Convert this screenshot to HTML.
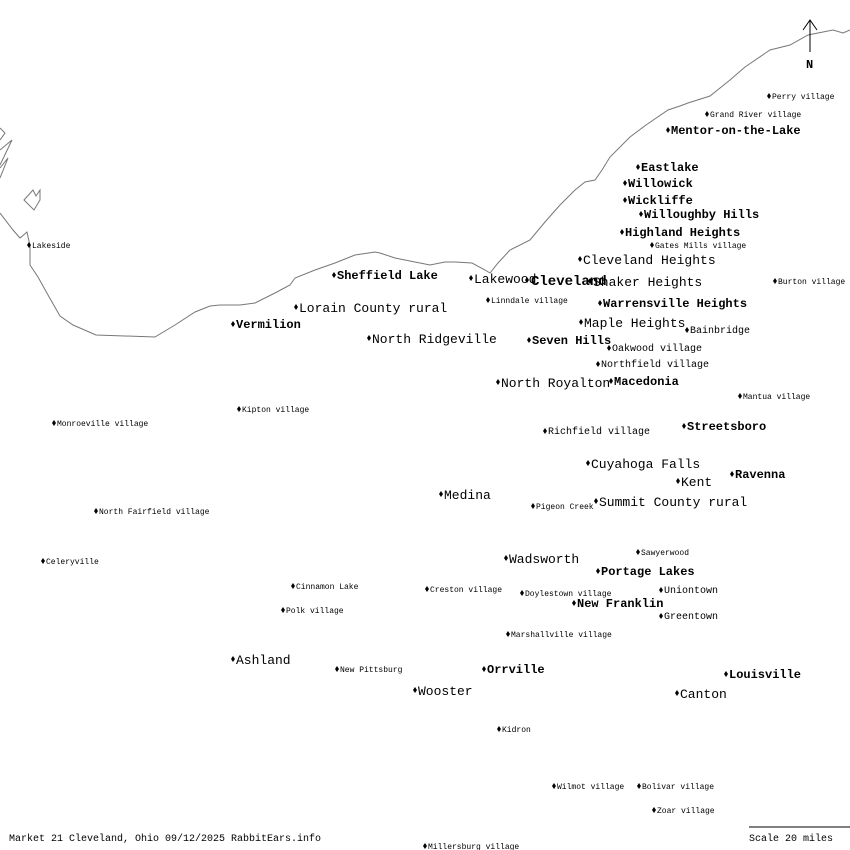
<!DOCTYPE html>
<html><head><meta charset="utf-8"><style>
html,body{margin:0;padding:0;background:#fff;}
svg{display:block;}
text{font-family:"Liberation Mono","DejaVu Sans Mono",monospace;fill:#000;}
.b{font-size:13px;}
.c{font-size:12px;font-weight:bold;}
.m{font-size:10px;}
.s{font-size:8px;}
</style></head><body>
<svg width="850" height="850" viewBox="0 0 850 850" xmlns="http://www.w3.org/2000/svg">
<g fill="none" stroke="#777" stroke-width="1">
<polyline points="0,213 13,230 20,238 27,232 30,246 30,265 38,277 48,295 60,316 73,325 96,335 155,337 175,325 195,312 210,306 220,305 240,305 255,303 275,293 290,285 295,278 315,270 335,263 355,255 375,252 380,253 395,258 415,262 430,265 445,262 455,262 472,263 485,270 490,273 498,263 510,250 530,240 545,222 560,205 575,190 585,182 595,180 602,170 610,157 630,137 646,125 668,110 680,106 688,103 710,96 730,80 745,67 770,50 790,45 808,35 818,33 833,30 843,33 850,30"/>
<polyline points="0,128 5,133 0,140"/>
<polyline points="0,150 12,140 0,165"/>
<polyline points="0,168 8,158 0,178"/>
<polygon points="24,200 33,190 36,196 40,190 40,200 34,210"/>
</g>
<g stroke="#000" fill="none">
<line x1="810" y1="20" x2="810" y2="52"/>
<polyline points="803,30 810,20 817,30"/>
<line x1="749" y1="827" x2="850" y2="827"/>
</g>
<text x="806" y="68" class="c">N</text>
<g id="L"></g>
<text x="9" y="841" class="m">Market 21 Cleveland, Ohio 09/12/2025 RabbitEars.info</text>
<text x="749" y="841" class="m">Scale 20 miles</text>
</svg>
<script>
var d=[
["b","Cleveland Heights",580,259],["b","Shaker Heights",590,281],["b","Lakewood",471,278],["b","Lorain County rural",296,307],["b","North Ridgeville",369,338],["b","Maple Heights",581,322],["b","North Royalton",498,382],["b","Cuyahoga Falls",588,463],["b","Kent",678,481],["b","Summit County rural",596,501],["b","Medina",441,494],["b","Wadsworth",506,558],["b","Ashland",233,659],["b","Wooster",415,690],["b","Canton",677,693],
["c","Mentor-on-the-Lake",668,130],["c","Eastlake",638,167],["c","Willowick",625,183],["c","Wickliffe",625,200],["c","Willoughby Hills",641,214],["c","Highland Heights",622,232],["c","Sheffield Lake",334,275],["c","Warrensville Heights",600,303],["c","Vermilion",233,324],["c","Seven Hills",529,340],["c","Macedonia",611,381],["c","Streetsboro",684,426],["c","Ravenna",732,474],["c","Portage Lakes",598,571],["c","New Franklin",574,603],["c","Orrville",484,669],["c","Louisville",726,674],
["m","Bainbridge",687,330],["m","Oakwood village",609,348],["m","Northfield village",598,364],["m","Richfield village",545,431],["m","Uniontown",661,590],["m","Greentown",661,616],
["s","Perry village",769,96],["s","Grand River village",707,114],["s","Gates Mills village",652,245],["s","Lakeside",29,245],["s","Burton village",775,281],["s","Linndale village",488,300],["s","Mantua village",740,396],["s","Kipton village",239,409],["s","Monroeville village",54,423],["s","North Fairfield village",96,511],["s","Pigeon Creek",533,506],["s","Celeryville",43,561],["s","Sawyerwood",638,552],["s","Cinnamon Lake",293,586],["s","Creston village",427,589],["s","Doylestown village",522,593],["s","Polk village",283,610],["s","Marshallville village",508,634],["s","New Pittsburg",337,669],["s","Kidron",499,729],["s","Wilmot village",554,786],["s","Bolivar village",639,786],["s","Zoar village",654,810],["s","Millersburg village",425,846]
];
var g=document.getElementById("L"),ns="http://www.w3.org/2000/svg",h="";
d.forEach(function(e){var x=e[2],y=e[3];
h+='<polygon points="'+x+','+(y-3)+' '+(x+2)+','+y+' '+x+','+(y+3)+' '+(x-2)+','+y+'" fill="#000"/>';
var off=e[0]=="b"?5:(e[0]=="c"?4:(e[0]=="m"?3:3));
h+='<text class="'+e[0]+'" x="'+(x+3)+'" y="'+(y+off)+'">'+e[1]+'</text>';});
h+='<polygon points="527,277 529,280 527,283 525,280" fill="#000"/><text x="531" y="285" style="font-size:14px;font-weight:bold">Cleveland</text>';
g.innerHTML=h;
</script>
</body></html>
